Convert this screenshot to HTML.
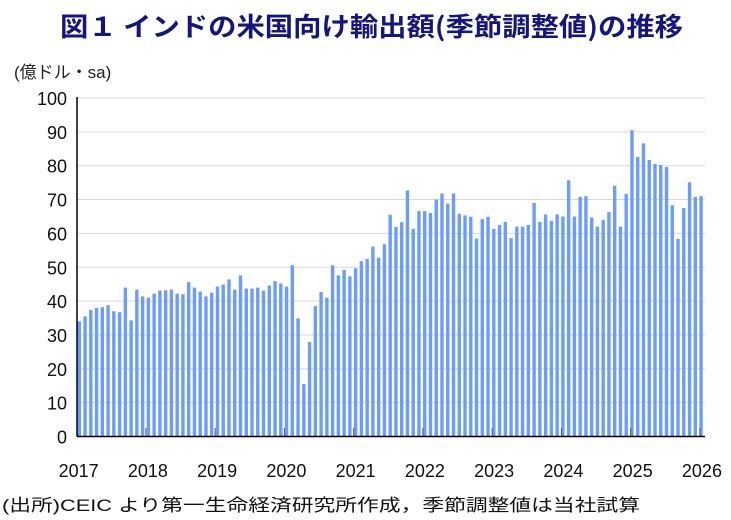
<!DOCTYPE html>
<html><head><meta charset="utf-8"><style>
html,body{margin:0;padding:0;background:#fff;}
svg{display:block;font-family:"Liberation Sans","Noto Sans CJK JP",sans-serif;}
</style></head><body>
<svg id="c" width="731" height="520" viewBox="0 0 731 520" xmlns="http://www.w3.org/2000/svg">
<text x="60" y="36" font-size="26" font-weight="bold" fill="#15157f" textLength="623" lengthAdjust="spacingAndGlyphs" font-family="'Noto Sans CJK JP',sans-serif">図１ インドの米国向け輸出額(季節調整値)の推移</text>
<text x="14" y="78" font-size="17" fill="#222" font-family="'Liberation Sans','Noto Sans CJK JP',sans-serif">(億ドル・sa)</text>
<g id="grid" stroke="#d9d9d9" stroke-width="1"></g>
<g id="ylab" font-size="18" fill="#111" text-anchor="end"></g>
<g id="bars" fill="#6c9cff"></g>
<g id="ticks" stroke="#555" stroke-width="1"></g>
<line x1="77" y1="97" x2="77" y2="436.5" stroke="#000" stroke-width="1.5"/>
<line x1="77" y1="436.5" x2="705" y2="436.5" stroke="#000" stroke-width="1.5"/>
<g id="xlab" font-size="18" fill="#111" text-anchor="middle"></g>
<text x="2" y="511" font-size="17" fill="#111" textLength="638" lengthAdjust="spacingAndGlyphs" font-family="'Liberation Sans','Noto Sans CJK JP',sans-serif">(出所)CEIC より第一生命経済研究所作成，季節調整値は当社試算</text>
</svg>
<script>
var NS="http://www.w3.org/2000/svg";
function el(p,t,a,txt){var e=document.createElementNS(NS,t);for(var k in a)e.setAttribute(k,a[k]);if(txt!=null)e.textContent=txt;document.getElementById(p).appendChild(e);}
function Y(v){return 436.5-v*3.385;}
for(var v=0;v<=100;v+=10){ if(v>0) el("grid","line",{x1:77,x2:705,y1:Y(v),y2:Y(v)}); el("ylab","text",{x:67,y:Y(v)+7},String(v)); }
var d=[34,35.5,37.4,38,38.2,38.8,37,36.7,44,34.3,43.4,41.4,41,42.2,43.1,43.2,43.4,42.2,42,45.6,44,42.8,41.4,42.5,44.3,44.9,46.4,43.4,47.6,43.7,43.7,44,43.1,44.6,45.9,45.2,44.3,
50.6,34.9,15.5,27.9,38.5,42.7,41,50.6,47.6,49.2,47.3,49.7,51.8,52.5,56.1,52.8,56.8,65.5,61.9,63.3,72.7,61.3,66.6,66.6,66,70,71.8,68.8,71.8,65.8,65.3,64.9,58.5,64.2,64.9,61.3,
62.5,63.4,58.6,62,62,62.5,69,63.4,65.6,63.7,65.6,65,75.7,65,70.8,71,64.7,62,64,66.3,74.1,62,71.7,90.5,82.6,86.6,81.7,80.5,80.2,79.6,68.3,58.4,67.5,75.1,70.8,71];
for(var i=0;i<d.length;i++){var cx=79.3+i*5.757;el("bars","rect",{x:(cx-1.7).toFixed(2),y:Y(d[i]).toFixed(2),width:3.4,height:(d[i]*3.385).toFixed(2)});}
for(var k=0;k<=9;k++){var x=76.6+k*69.26;if(k>0)el("ticks","line",{x1:x,x2:x,y1:436,y2:428});el("xlab","text",{x:x+2,y:477},String(2017+k));}
</script>
</body></html>
